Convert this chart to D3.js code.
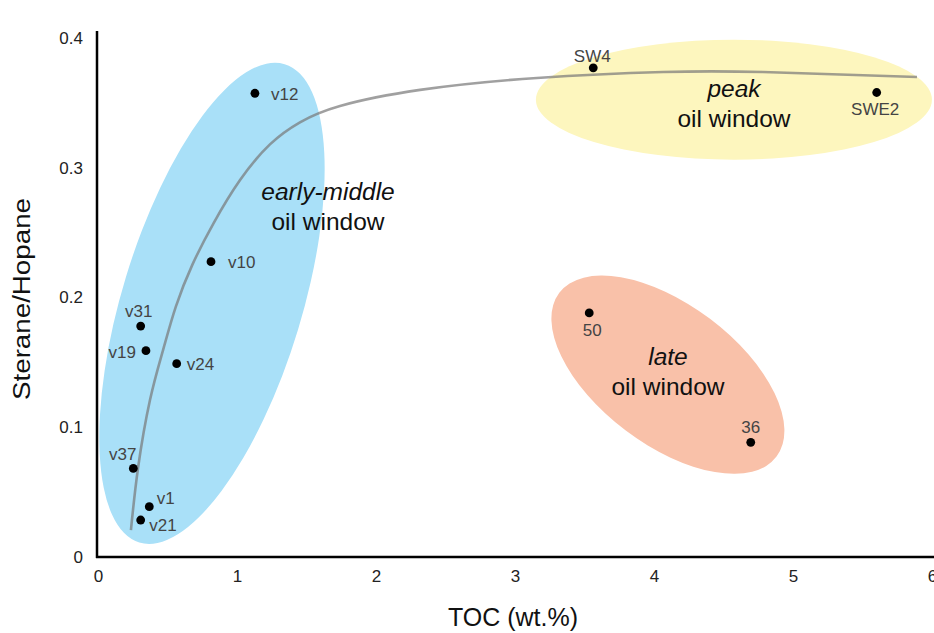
<!DOCTYPE html>
<html><head><meta charset="utf-8">
<script src="https://cdn.jsdelivr.net/npm/d3@7"></script>
<style>
html,body{margin:0;padding:0;background:#fff;}
svg{display:block;font-family:"Liberation Sans",Arial,sans-serif;}
</style></head>
<body><svg id="chart" width="934" height="633"></svg>
<script>
// ---- data ----
const sampleNames = ["v12","v10","v31","v19","v24","v37","v1","v21","SW4","SWE2","50","36"];
const tocValues   = [1.129, 0.813, 0.307, 0.345, 0.566, 0.254, 0.369, 0.307, 3.563, 5.602, 3.534, 4.696];
const steraneHopane = [0.3574, 0.2276, 0.178, 0.159, 0.149, 0.0683, 0.0388, 0.0285, 0.377, 0.358, 0.1881, 0.0884];
const trendX = [0.237, 0.288, 0.374, 0.468, 0.560, 0.680, 0.830, 1.022, 1.237, 1.453, 1.741, 2.317, 3.158, 4.065, 4.784, 5.892];
const trendY = [0.0208, 0.0686, 0.121, 0.1595, 0.193, 0.2255, 0.257, 0.2905, 0.3180, 0.3350, 0.3476, 0.360, 0.3692, 0.3738, 0.3738, 0.370];
const xTicks = [0,1,2,3,4,5,6];
const yTicks = [0,0.1,0.2,0.3,0.4];
const yTickLabels = ["0","0.1","0.2","0.3","0.4"];
const zoneItalic = ["early-middle","peak","late"];
const zoneSub = ["oil window","oil window","oil window"];

// ---- layout (not data) ----
const svg = d3.select("#chart");
const x = d3.scaleLinear().domain([0,6]).range([98,932]);
const y = d3.scaleLinear().domain([0,0.4]).range([557,38]);

// zone ellipse shapes (pixel geometry) and label positions
const zoneShapes = [
  {cx:0.82, cy:0.1955, rx:90, ry:250, rot:16.9, fill:"#a9e0f8"},
  {cx:4.575, cy:0.3525, rx:198, ry:60, rot:0, fill:"#fdf6be"},
  {cx:4.10, cy:0.1405, rx:136, ry:70, rot:37, fill:"#f9c1a9"}
];
const zoneLabelPos = [[328,200],[734,97],[668,365]];

const g = svg.append("g");

// ellipses
g.selectAll("ellipse.zone").data(zoneShapes).join("ellipse")
  .attr("class","zone")
  .attr("rx",d=>d.rx).attr("ry",d=>d.ry)
  .attr("transform",d=>`translate(${x(d.cx)},${y(d.cy)}) rotate(${d.rot})`)
  .attr("fill",d=>d.fill);

// trend curve
const trend = trendX.map((v,i)=>[v,trendY[i]]);
g.append("path").datum(trend)
  .attr("d", d3.line().x(d=>x(d[0])).y(d=>y(d[1])).curve(d3.curveNatural))
  .attr("fill","none").attr("stroke","#777").attr("stroke-opacity",0.7).attr("stroke-width",2.6);

// zone labels
zoneItalic.forEach((t,i)=>{
  const [px,py] = zoneLabelPos[i];
  g.append("text").attr("x",px).attr("y",py).attr("text-anchor","middle")
    .attr("font-size",24.5).attr("font-style","italic").attr("fill","#111").text(t);
  g.append("text").attr("x",px).attr("y",py+30).attr("text-anchor","middle")
    .attr("font-size",24.5).attr("fill","#111").text(zoneSub[i]);
});

// points
const pts = sampleNames.map((n,i)=>({name:n, x:tocValues[i], y:steraneHopane[i]}));
g.selectAll("circle.pt").data(pts).join("circle")
  .attr("class","pt").attr("cx",d=>x(d.x)).attr("cy",d=>y(d.y)).attr("r",4.4).attr("fill","#000");

// point label offsets [dx, dy, anchor]
const labelOff = {
  v12:[16,7,"start"], v10:[17,6,"start"], v31:[-2,-9,"middle"], v19:[-10,7,"end"],
  v24:[10,6,"start"], v37:[-10.5,-8,"middle"], v1:[7.5,-3,"start"], v21:[8.5,11,"start"],
  SW4:[-1,-6,"middle"], SWE2:[-1.5,23,"middle"], "50":[3,23,"middle"], "36":[0,-9,"middle"]
};
g.selectAll("text.pl").data(pts).join("text")
  .attr("class","pl")
  .attr("x",d=>x(d.x)+labelOff[d.name][0]).attr("y",d=>y(d.y)+labelOff[d.name][1])
  .attr("text-anchor",d=>labelOff[d.name][2])
  .attr("font-size",17).attr("fill","#444").text(d=>d.name);

// axes
const xAxis = svg.append("g").attr("transform","translate(0,557)")
  .call(d3.axisBottom(x).tickValues(xTicks).tickSize(0).tickFormat(d3.format("d")));
xAxis.select(".domain").remove();
xAxis.selectAll("text").attr("font-size",17).attr("fill","#222").attr("dy","1.3em")
  .attr("font-family","Liberation Sans, Arial, sans-serif");

const yAxis = svg.append("g").attr("transform","translate(97,0)")
  .call(d3.axisLeft(y).tickValues(yTicks).tickSize(0).tickFormat((d,i)=>yTickLabels[i]));
yAxis.select(".domain").remove();
yAxis.selectAll("text").attr("font-size",17).attr("fill","#222").attr("x",-14)
  .attr("font-family","Liberation Sans, Arial, sans-serif");

svg.append("line").attr("x1",97).attr("x2",97).attr("y1",31).attr("y2",558)
  .attr("stroke","#000").attr("stroke-width",2.5);
svg.append("line").attr("x1",96).attr("x2",934).attr("y1",557).attr("y2",557)
  .attr("stroke","#000").attr("stroke-width",2.5);

// axis titles
svg.append("text").attr("x",513).attr("y",626).attr("text-anchor","middle")
  .attr("font-size",25).attr("fill","#111").text("TOC (wt.%)");
svg.append("text").attr("transform","translate(30,299) rotate(-90)").attr("text-anchor","middle")
  .attr("font-size",23).attr("textLength",202).attr("lengthAdjust","spacingAndGlyphs")
  .attr("fill","#111").text("Sterane/Hopane");
</script></body></html>
